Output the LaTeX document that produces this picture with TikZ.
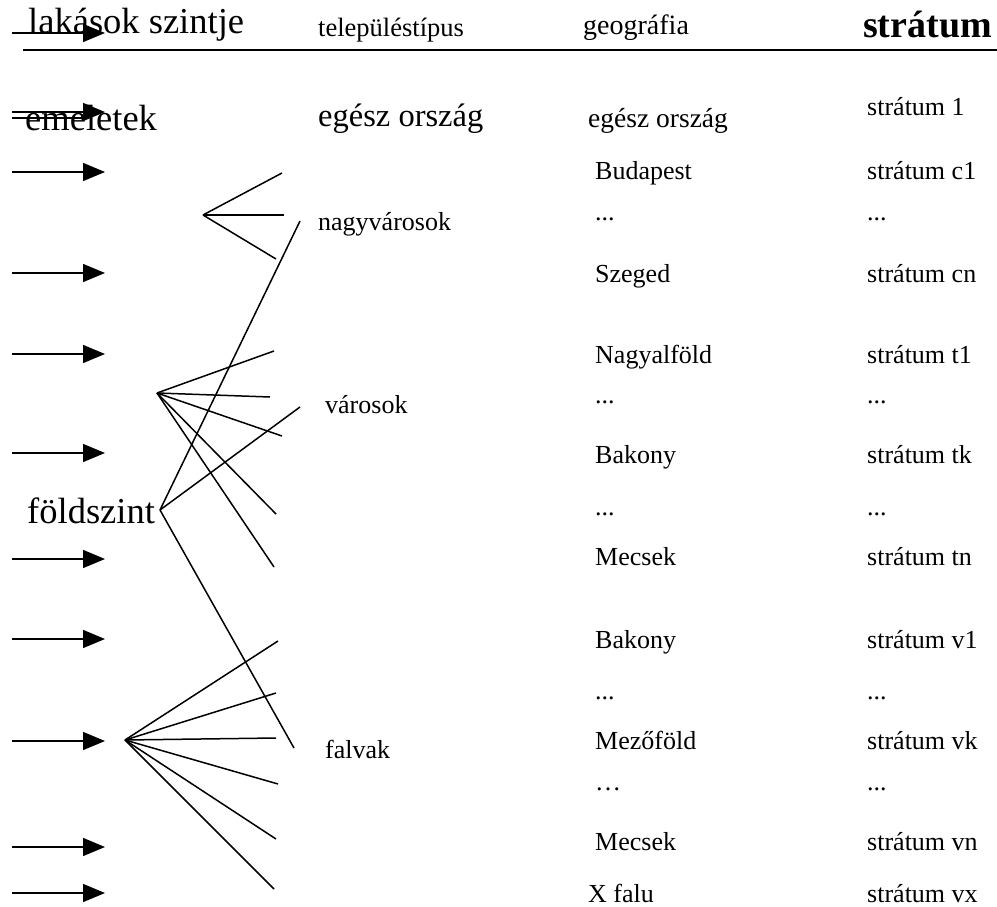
\documentclass[tikz,border=0pt]{standalone}
\usepackage{fontspec}
\setmainfont{Liberation Serif}
\usetikzlibrary{arrows.meta}
\newcommand{\rowdots}{...}
\newcommand{\rowellip}{…}

\begin{document}
\begin{tikzpicture}[
    x=1pt,
    y=-1pt,
    every node/.style={inner sep=0pt, anchor=base west},
    bigtext/.style={font=\fontsize{36.5}{40}\selectfont},
    midtext/.style={font=\fontsize{32.5}{36}\selectfont},
    headtext/.style={font=\fontsize{26.5}{30}\selectfont},
    cell/.style={font=\fontsize{26}{30}\selectfont},
    branch/.style={line width=1.5pt},
    level/.style={
        -{Triangle[length=22pt,width=18pt]},
        line width=1.5pt
    }
]
\useasboundingbox (0,0) rectangle (997,907);

    % Column headings
    \node[bigtext] (hlevel) at (28,34) {lakások szintje};
    \node[headtext] (htype) at (318,37) {településtípus};
    \node[font=\fontsize{28}{30}\selectfont] (hgeo) at (583,35) {geográfia};
    \node[font=\fontsize{38}{42}\selectfont\bfseries] (hstrat) at (863,38) {strátum};
    \draw[line width=1.5pt] (23,50) -- (997,50);

    % First row
    \node[bigtext] (floors) at (25,130) {emeletek};
    \node[midtext] (country) at (318,127) {egész ország};
    \node[font=\fontsize{27.5}{30}\selectfont] (geo0) at (588,128) {egész ország};
    \node[cell] (strat0) at (867,115) {strátum 1};

    % Ground floor and settlement types
    \node[bigtext] (ground) at (27,523) {földszint};
    \node[cell] (bigcity) at (318,230) {nagyvárosok};
    \node[cell] (towns) at (325,413) {városok};
    \node[cell] (villages) at (325,758) {falvak};

    % Geography and strata
    \foreach \y/\g/\s [count=\i] in {
        179/Budapest/strátum c1,
        220/\rowdots/\rowdots,
        282/Szeged/strátum cn,
        363/Nagyalföld/strátum t1,
        403/\rowdots/\rowdots,
        463/Bakony/strátum tk,
        515/\rowdots/\rowdots,
        565/Mecsek/strátum tn,
        648/Bakony/strátum v1,
        699/\rowdots/\rowdots,
        749/Mezőföld/strátum vk,
        790/\rowellip/\rowdots,
        850/Mecsek/strátum vn}{
        \node[cell] (geo\i) at (595,\y) {\g};
        \node[cell] (strat\i) at (867,\y) {\s};
    }
    \node[cell] (geo14) at (588,902) {X falu};
    \node[cell] (strat14) at (867,902) {strátum vx};

    % Branches from ground floor to settlement types
    \coordinate (fsz) at (160,510);
    \coordinate (tbig) at (300,221);
    \coordinate (ttown) at (300,407);
    \coordinate (tvill) at (294,748);
    \draw[branch] (fsz) -- (tbig);
    \draw[branch] (fsz) -- (ttown);
    \draw[branch] (fsz) -- (tvill);

    % Big city fan
    \coordinate (bigfan) at (203,215);
    \foreach \px/\py [count=\i] in {282/173, 284/215, 276/259}{
        \coordinate (bc\i) at (\px,\py);
        \draw[branch] (bigfan) -- (bc\i);
    }

    % Town fan
    \coordinate (townfan) at (157,393);
    \foreach \px/\py [count=\i] in {274/351, 270/397, 282/436, 276/514, 274/567}{
        \coordinate (tw\i) at (\px,\py);
        \draw[branch] (townfan) -- (tw\i);
    }

    % Village fan
    \coordinate (villfan) at (125,740);
    \foreach \px/\py [count=\i] in {278/641, 276/693, 276/738, 278/784, 276/839, 274/889}{
        \coordinate (vl\i) at (\px,\py);
        \draw[branch] (villfan) -- (vl\i);
    }

    % Level arrows
    \foreach \y [count=\i] in {33,112,172,273,354,453,559,639,741,847,893}{
        \coordinate (la\i) at (12,\y);
        \coordinate (lb\i) at (105,\y);
        \draw[level] (la\i) -- (lb\i);
    }
    \coordinate (lx1) at (12,118);
    \coordinate (lx2) at (88,118);
    \draw[branch] (lx1) -- (lx2);

\end{tikzpicture}
\end{document}
